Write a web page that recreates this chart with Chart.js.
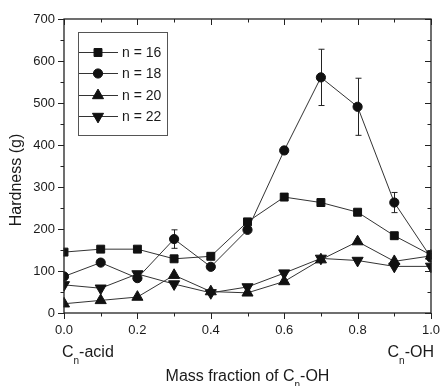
<!DOCTYPE html>
<html>
<head>
<meta charset="utf-8">
<script src="https://cdn.jsdelivr.net/npm/chart.js@4.4.1/dist/chart.umd.min.js"></script>
<style>
  html, body { margin: 0; padding: 0; background: #fff; }
  #wrap { width: 441px; height: 386px; position: relative; }
</style>
</head>
<body>
<div id="wrap"><canvas id="c" width="441" height="386"></canvas></div>
<script>
// ---- data ----
const massFraction = [0.0, 0.1, 0.2, 0.3, 0.4, 0.5, 0.6, 0.7, 0.8, 0.9, 1.0];
const hardnessN16 = [145, 152, 152, 129, 135, 217, 276, 263, 240, 184, 138];
const hardnessN18 = [87, 120, 83, 176, 110, 198, 387, 561, 491, 263, 132];
const errorN18    = [0, 0, 0, 22, 0, 0, 8, 67, 68, 24, 0];
const hardnessN20 = [22, 30, 38, 90, 51, 48, 75, 127, 170, 123, 136];
const hardnessN22 = [67, 59, 93, 69, 48, 62, 95, 130, 125, 111, 111];
const seriesLabels = ['n = 16', 'n = 18', 'n = 20', 'n = 22'];
const yAxisTitle = 'Hardness (g)';
const xAxisTitle = ['Mass fraction of C', 'n', '-OH'];
const leftEndLabel = ['C', 'n', '-acid'];
const rightEndLabel = ['C', 'n', '-OH'];

const FONT = '"Liberation Sans", Arial, sans-serif';
const INK = '#1a1a1a';

function pts(vals) { return vals.map((v, i) => ({ x: massFraction[i], y: v })); }

const markerStyles = [
  { pointStyle: 'rect', rotation: 0, radius: 5.6 },
  { pointStyle: 'circle', rotation: 0, radius: 4.6 },
  { pointStyle: 'triangle', rotation: 0, radius: 6.4 },
  { pointStyle: 'triangle', rotation: 180, radius: 6.4 }
];
const seriesValues = [hardnessN16, hardnessN18, hardnessN20, hardnessN22];
const seriesErrors = [null, errorN18, null, null];

const datasets = seriesValues.map((vals, i) => ({
  label: seriesLabels[i],
  data: pts(vals),
  borderColor: '#333',
  borderWidth: 1,
  backgroundColor: '#111',
  pointBackgroundColor: '#111',
  pointBorderColor: '#111',
  pointBorderWidth: 1,
  pointStyle: markerStyles[i].pointStyle,
  pointRotation: markerStyles[i].rotation,
  pointRadius: markerStyles[i].radius,
  pointHoverRadius: markerStyles[i].radius,
  clip: 0.5,
  tension: 0,
  fill: false
}));

function drawSubText(ctx, parts, x, y, align, size) {
  const subSize = Math.round(size * 0.6);
  ctx.font = size + 'px ' + FONT;
  const w0 = ctx.measureText(parts[0]).width;
  const w2 = ctx.measureText(parts[2]).width;
  ctx.font = subSize + 'px ' + FONT;
  const w1 = ctx.measureText(parts[1]).width;
  const total = w0 + w1 + w2;
  let sx = align === 'center' ? x - total / 2 : (align === 'right' ? x - total : x);
  ctx.textAlign = 'left';
  ctx.textBaseline = 'alphabetic';
  ctx.font = size + 'px ' + FONT;
  ctx.fillText(parts[0], sx, y);
  ctx.font = subSize + 'px ' + FONT;
  ctx.fillText(parts[1], sx + w0, y + 7);
  ctx.font = size + 'px ' + FONT;
  ctx.fillText(parts[2], sx + w0 + w1, y);
}

const decorPlugin = {
  id: 'decor',
  beforeDatasetsDraw(chart) {
    const ctx = chart.ctx;
    const xs = chart.scales.x, ys = chart.scales.y;
    ctx.save();
    ctx.strokeStyle = '#222';
    ctx.lineWidth = 1;
    seriesErrors.forEach((errs, di) => {
      if (!errs) return;
      errs.forEach((e, i) => {
        if (!e) return;
        const v = seriesValues[di][i];
        const px = Math.round(xs.getPixelForValue(massFraction[i])) + 0.5;
        const top = ys.getPixelForValue(v + e);
        const bot = ys.getPixelForValue(v - e);
        ctx.beginPath();
        ctx.moveTo(px, top); ctx.lineTo(px, bot);
        ctx.moveTo(px - 3, top); ctx.lineTo(px + 3, top);
        ctx.moveTo(px - 3, bot); ctx.lineTo(px + 3, bot);
        ctx.stroke();
      });
    });
    ctx.restore();
  },
  afterDraw(chart) {
    const ctx = chart.ctx;
    const a = chart.chartArea;
    const xs = chart.scales.x, ys = chart.scales.y;
    ctx.save();
    // frame
    ctx.strokeStyle = '#222';
    ctx.lineWidth = 1.3;
    ctx.strokeRect(a.left, a.top, a.right - a.left, a.bottom - a.top);
    // ticks
    ctx.lineWidth = 1;
    ctx.beginPath();
    for (let k = 0; k <= 10; k++) {
      const v = k / 10;
      const px = Math.round(xs.getPixelForValue(v)) + 0.5;
      const len = k % 2 === 0 ? 6 : 3.5;
      ctx.moveTo(px, a.bottom); ctx.lineTo(px, a.bottom + len);
      ctx.moveTo(px, a.top); ctx.lineTo(px, a.top + len);
    }
    for (let v = 0; v <= 700; v += 50) {
      const py = Math.round(ys.getPixelForValue(v)) + 0.5;
      const len = v % 100 === 0 ? 6 : 3.5;
      ctx.moveTo(a.left, py); ctx.lineTo(a.left - len, py);
      ctx.moveTo(a.right, py); ctx.lineTo(a.right - len, py);
    }
    ctx.stroke();

    // legend
    const lx0 = 78, ly0 = 32, lx1 = 167, ly1 = 135;
    ctx.strokeStyle = '#555';
    ctx.lineWidth = 1;
    ctx.strokeRect(lx0 + 0.5, ly0 + 0.5, lx1 - lx0, ly1 - ly0);
    const rowY = [52, 73, 95, 116];
    chart.data.datasets.forEach((ds, i) => {
      const y = rowY[i];
      ctx.strokeStyle = '#333';
      ctx.lineWidth = 1;
      ctx.beginPath();
      ctx.moveTo(lx0 + 1, y + 0.5); ctx.lineTo(118, y + 0.5);
      ctx.stroke();
      ctx.fillStyle = '#111';
      ctx.strokeStyle = '#111';
      Chart.helpers.drawPoint(ctx, {
        pointStyle: ds.pointStyle, rotation: ds.pointRotation,
        radius: ds.pointRadius, borderWidth: 1
      }, 98, y + 0.5);
      ctx.fillStyle = INK;
      ctx.font = '14px ' + FONT;
      ctx.textAlign = 'left';
      ctx.textBaseline = 'middle';
      ctx.fillText(ds.label, 122, y + 1);
    });

    // axis titles
    ctx.fillStyle = INK;
    ctx.save();
    ctx.translate(17, 180);
    ctx.rotate(-Math.PI / 2);
    ctx.font = '16px ' + FONT;
    ctx.textAlign = 'center';
    ctx.textBaseline = 'middle';
    ctx.fillText(yAxisTitle, 0, 0);
    ctx.restore();

    drawSubText(ctx, xAxisTitle, (a.left + a.right) / 2, 381, 'center', 16);
    drawSubText(ctx, leftEndLabel, 62, 357, 'left', 16);
    drawSubText(ctx, rightEndLabel, 434, 357, 'right', 16);
    ctx.restore();
  }
};

new Chart(document.getElementById('c'), {
  type: 'line',
  data: { datasets },
  options: {
    responsive: false,
    animation: false,
    devicePixelRatio: 1,
    layout: { padding: { top: 19, right: 10, left: 0, bottom: 0 } },
    plugins: { legend: { display: false }, tooltip: { enabled: false } },
    scales: {
      x: {
        type: 'linear', min: 0, max: 1,
        afterFit(s) { s.height = 73; s.paddingLeft = 0; s.paddingRight = 0; },
        grid: { display: false, drawTicks: false },
        border: { display: false },
        ticks: {
          stepSize: 0.2, padding: 10, color: INK,
          font: { family: FONT, size: 13 },
          callback: v => Number(v).toFixed(1)
        }
      },
      y: {
        type: 'linear', min: 0, max: 700,
        afterFit(s) { s.width = 64; s.paddingTop = 0; s.paddingBottom = 0; },
        grid: { display: false, drawTicks: false },
        border: { display: false },
        ticks: {
          stepSize: 100, padding: 9, color: INK,
          font: { family: FONT, size: 13 }
        }
      }
    }
  },
  plugins: [decorPlugin]
});
</script>
</body>
</html>
